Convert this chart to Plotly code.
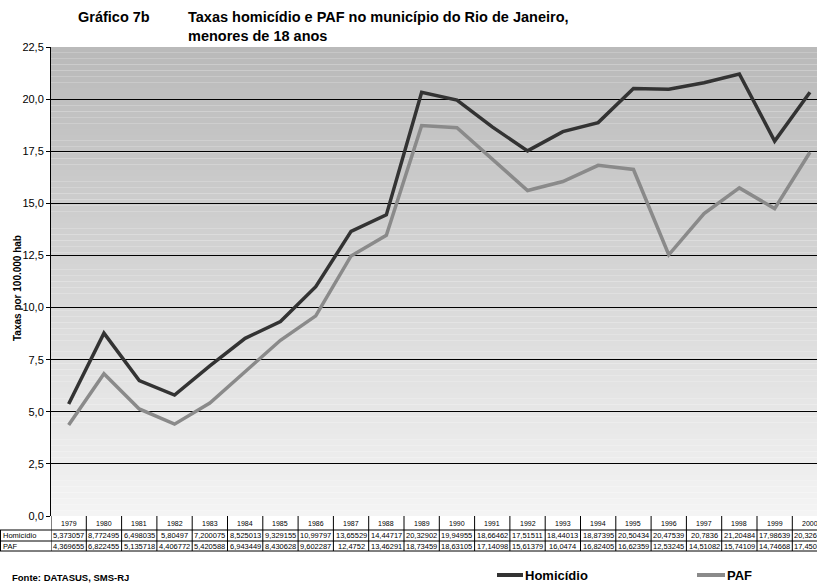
import plotly.graph_objects as go

years = ["1979", "1980", "1981", "1982", "1983", "1984", "1985", "1986", "1987", "1988", "1989",
         "1990", "1991", "1992", "1993", "1994", "1995", "1996", "1997", "1998", "1999", "2000"]
homicidio = [5.373057, 8.772495, 6.498035, 5.80497, 7.200075, 8.525013, 9.329155, 10.99797,
             13.65529, 14.44717, 20.32902, 19.94955, 18.66462, 17.51511, 18.44013, 18.87395,
             20.50434, 20.47539, 20.7836, 21.20484, 17.98639, 20.32633]
paf = [4.369655, 6.822455, 5.135718, 4.406772, 5.420588, 6.943449, 8.430628, 9.602287,
       12.4752, 13.46291, 18.73459, 18.63105, 17.14098, 15.61379, 16.0474, 16.82405,
       16.62359, 12.53245, 14.51082, 15.74109, 14.74668, 17.45041]
y_ticks = [0, 2.5, 5, 7.5, 10, 12.5, 15, 17.5, 20, 22.5]

W, H = 817, 585
L, R, T, B = 51, 0, 47, 69
plot_w = W - L - R
plot_h = H - T - B
n = len(years)
xs = list(range(n))
FONT = "Liberation Sans, Arial, sans-serif"


def px(xpix):
    return (xpix - L) / plot_w


def py(ypix):
    return (H - B - ypix) / plot_h


fig = go.Figure()
fig.add_trace(go.Scatter(x=xs, y=paf, mode="lines", name="PAF",
                         line=dict(color="#8a8a8a", width=3.5), showlegend=False))
fig.add_trace(go.Scatter(x=xs, y=homicidio, mode="lines", name="Homicídio",
                         line=dict(color="#333333", width=3.5), showlegend=False))

shapes = []
# gradient background
nb = 80
for i in range(nb):
    t = i / (nb - 1)
    c = int(186 + (244 - 186) * t)
    shapes.append(dict(type="rect", xref="paper", yref="paper", layer="below",
                       x0=0, x1=1, y0=1 - (i + 1) / nb, y1=1 - i / nb,
                       fillcolor=f"rgb({c},{c},{c})", line=dict(width=0)))

# data table grid
lw = dict(color="black", width=1)
for r in [530, 541, 551]:
    shapes.append(dict(type="line", xref="x domain", yref="y domain", x0=px(0), x1=1,
                       y0=py(r), y1=py(r), line=lw))
shapes.append(dict(type="line", xref="x domain", yref="y domain", x0=px(0.5), x1=px(0.5),
                   y0=py(530), y1=py(551), line=lw))
for i in range(n + 1):
    shapes.append(dict(type="line", xref="x", yref="y domain", x0=i - 0.5, x1=i - 0.5,
                       y0=py(516), y1=py(551), line=lw))

annotations = []
tf = dict(family=FONT, size=7.5, color="black")
for i in range(n):
    annotations.append(dict(x=i, y=py(523), xref="x", yref="y domain", text=years[i],
                            showarrow=False, font=dict(family=FONT, size=7, color="black"),
                            xanchor="center", yanchor="middle"))
    annotations.append(dict(x=i, y=py(535.5), xref="x", yref="y domain",
                            text=str(homicidio[i]).replace(".", ","),
                            showarrow=False, font=tf, xanchor="center", yanchor="middle"))
    annotations.append(dict(x=i, y=py(546), xref="x", yref="y domain",
                            text=str(paf[i]).replace(".", ","),
                            showarrow=False, font=tf, xanchor="center", yanchor="middle"))
for lbl, yy in [("Homicídio", 535.5), ("PAF", 546)]:
    annotations.append(dict(x=px(1), y=py(yy), xref="x domain", yref="y domain", text=lbl,
                            showarrow=False, font=tf, xanchor="left", yanchor="middle"))

bold = dict(family=FONT, size=14.5, color="black")
annotations += [
    dict(x=px(76), y=py(17), xref="x domain", yref="y domain", text="<b>Gráfico 7b</b>",
         showarrow=False, font=bold, xanchor="left", yanchor="middle"),
    dict(x=px(186), y=py(17), xref="x domain", yref="y domain",
         text="<b>Taxas homicídio e PAF no município do Rio de Janeiro,</b>",
         showarrow=False, font=bold, xanchor="left", yanchor="middle"),
    dict(x=px(186), y=py(36), xref="x domain", yref="y domain",
         text="<b>menores de 18 anos</b>",
         showarrow=False, font=bold, xanchor="left", yanchor="middle"),
]

annotations.append(dict(x=px(10), y=py(577), xref="x domain", yref="y domain",
                        text="<b>Fonte: DATASUS, SMS-RJ</b>", showarrow=False,
                        font=dict(family=FONT, size=9.5, color="black"),
                        xanchor="left", yanchor="middle"))
# legend
leg_y = py(575)
for x0, x1, col, lbl in [(497, 523, "#333333", "Homicídio"), (697, 725, "#8a8a8a", "PAF")]:
    shapes.append(dict(type="line", xref="x domain", yref="y domain",
                       x0=px(x0), x1=px(x1), y0=leg_y, y1=leg_y, line=dict(color=col, width=4)))
    annotations.append(dict(x=px(x1), y=leg_y, xref="x domain", yref="y domain",
                            text=f"<b>{lbl}</b>", showarrow=False,
                            font=dict(family=FONT, size=13, color="black"),
                            xanchor="left", yanchor="middle"))
# y-axis title
annotations.append(dict(x=px(17), y=py(288), xref="x domain", yref="y domain",
                        text="<b>Taxas por 100.000 hab</b>", showarrow=False, textangle=-90,
                        font=dict(family=FONT, size=10, color="black"),
                        xanchor="center", yanchor="middle"))

fig.update_layout(
    width=W, height=H,
    margin=dict(l=L, r=R, t=T, b=B),
    paper_bgcolor="white", plot_bgcolor="white",
    separators=",.",
    shapes=shapes, annotations=annotations,
    xaxis=dict(range=[-0.5, -0.5 + plot_w / 35.3], showgrid=False, showticklabels=False,
               zeroline=False, showline=False, ticks=""),
    yaxis=dict(range=[0, 22.5], tickvals=y_ticks, tickformat=".1f", showgrid=True,
               gridcolor="black", gridwidth=1, zeroline=False, showline=True,
               linecolor="black", linewidth=1, ticks="outside", ticklen=4, tickcolor="black",
               tickfont=dict(family=FONT, size=11, color="black")),
)

fig.write_html("out.html", config={"displayModeBar": False},
               post_script="document.body.style.margin='0';document.body.style.overflow='hidden';")
